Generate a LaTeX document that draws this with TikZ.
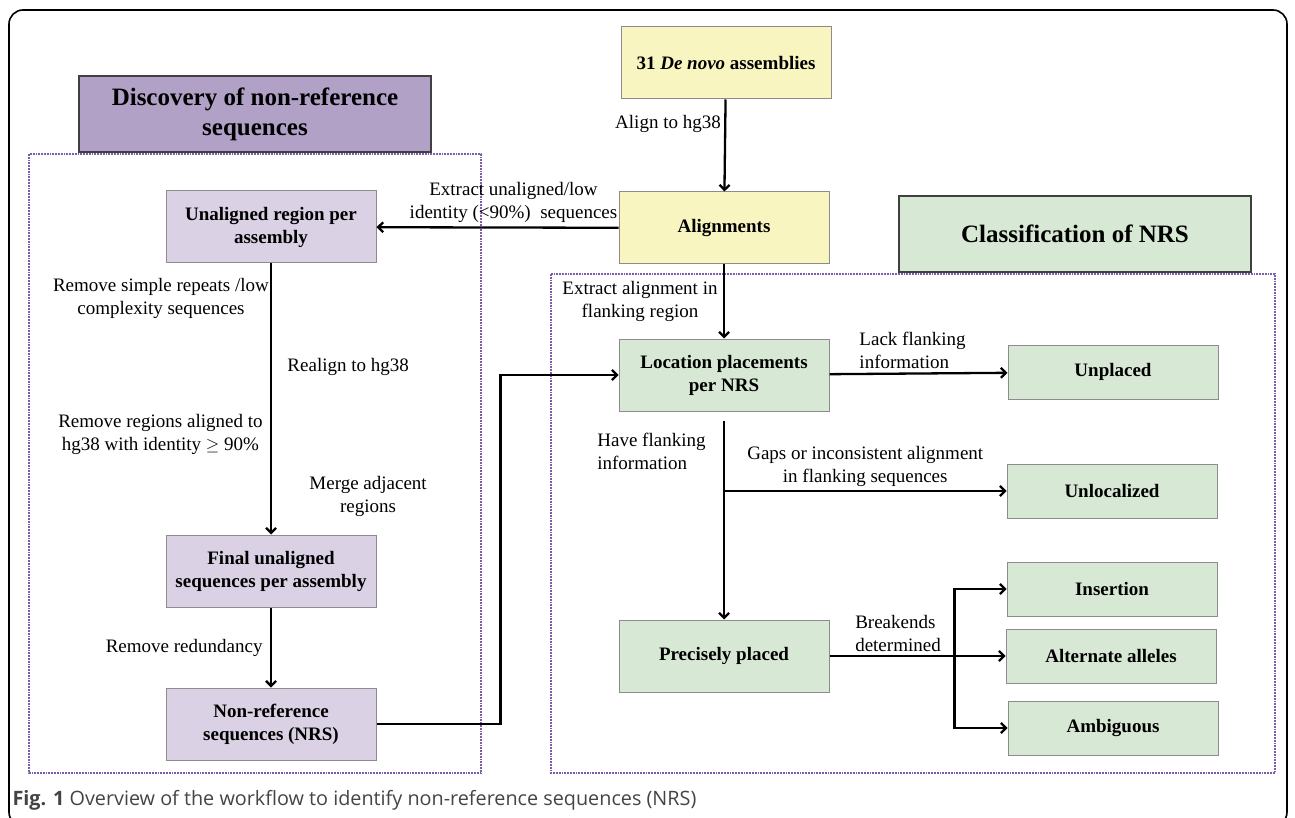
\documentclass[tikz,border=0pt]{standalone}
\usepackage{fontspec}
\setmainfont{Liberation Serif}
\newfontfamily\capfont{Open Sans}
\usetikzlibrary{arrows.meta}

\definecolor{yelfill}{HTML}{F9F5C0}
\definecolor{purtitle}{HTML}{B2A1C7}
\definecolor{purfill}{HTML}{DAD2E4}
\definecolor{grnfill}{HTML}{D7E9D4}
\definecolor{boxline}{HTML}{8C8C8C}
\definecolor{dotline}{HTML}{7B5EA7}
\definecolor{capgray}{HTML}{444444}

\tikzset{
  box/.style={draw=boxline, line width=1pt, minimum width=210pt, minimum height=72pt,
    align=center, font=\fontsize{19}{23}\selectfont\bfseries},
  outbox/.style={box, minimum height=54pt},
  titlebox/.style={draw=black!75, line width=1.3pt, minimum width=352pt, minimum height=76pt,
    align=center, font=\fontsize{25}{30}\selectfont\bfseries},
  frame/.style={draw=dotline, line width=1.8pt, densely dotted},
  lbl/.style={font=\fontsize{19}{23}\selectfont, align=center},
  arr/.style={-{Straight Barb[length=5pt,width=10pt]}, line width=2.3pt},
  link/.style={line width=2.3pt}
}

\begin{document}
\begin{tikzpicture}[x=1pt, y=-1pt]
  \useasboundingbox (0,0) rectangle (1295,818);
  \draw[line width=1.6pt, rounded corners=14pt] (9,10) rectangle (1287,826);

  % dotted frames
  \draw[frame] (29,154) rectangle (481,773);
  \draw[frame] (551,274) rectangle (1275,773);

  % titles
  \node[titlebox, fill=purtitle] (disc) at (255,114) {Discovery of non-reference\\sequences};
  \node[titlebox, fill=grnfill] (clas) at (1075,234) {Classification of NRS};

  % assemblies and alignments
  \node[box, fill=yelfill] (denovo) at (726,63) {31 \textit{De novo} assemblies};
  \node[box, fill=yelfill] (align) at (724,228) {Alignments};

  % discovery
  \node[box, fill=purfill] (unal) at (271,227) {Unaligned region per\\assembly};
  \node[box, fill=purfill] (final) at (271,571) {Final unaligned\\sequences per assembly};
  \node[box, fill=purfill] (nrs) at (271,724) {Non-reference\\sequences (NRS)};

  % classification
  \node[box, fill=grnfill] (loc) at (724,375) {Location placements\\per NRS};
  \node[box, fill=grnfill] (prec) at (724,656) {Precisely placed};
  \node[outbox, fill=grnfill] (unpl) at (1113,372) {Unplaced};
  \node[outbox, fill=grnfill] (unloc) at (1112,491) {Unlocalized};
  \node[outbox, fill=grnfill] (ins) at (1112,589) {Insertion};
  \node[outbox, fill=grnfill] (alt) at (1111,656) {Alternate alleles};
  \node[outbox, fill=grnfill] (amb) at (1113,728) {Ambiguous};

  \draw[arr] (denovo)--(align) node[lbl, pos=0.27, left]{Align to hg38};
  \draw[arr] (align)--(unal) node[lbl, midway, above, xshift=16pt]{Extract unaligned/low\\identity (<90\%)\ \ sequences};
  \draw[arr] (align)--(loc) node[lbl, midway, left, xshift=-2pt]{Extract alignment in\\flanking region};

  \draw[arr] (unal)--(final)
    node[lbl, pos=0.13, left, inner sep=1pt]{Remove simple repeats /low\\complexity sequences}
    node[lbl, pos=0.38, right, xshift=12pt]{Realign to hg38}
    node[lbl, pos=0.63, left, xshift=-4pt]{Remove regions aligned to\\hg38 with identity $\geq$ 90\%}
    node[lbl, pos=0.86, right, xshift=34pt]{Merge adjacent\\regions};
  \draw[arr] (final)--(nrs) node[lbl, midway, left, xshift=-4pt]{Remove redundancy};
  \draw[arr] (nrs.east) -- ++(124,0) |- (loc.west);

  \draw[arr] (loc)--(unpl) node[lbl, midway, above, xshift=-6pt, align=left]{Lack flanking\\information};
  \draw[arr, shorten <=9pt] (loc)--(prec) node[lbl, pos=0.19, left, xshift=-14pt, align=left]{Have flanking\\information};
  \coordinate (split) at (loc.south |- unloc.west);
  \draw[arr] (split)--(unloc) node[lbl, midway, above]{Gaps or inconsistent alignment\\in flanking sequences};

  \draw[link] (prec.east) -- ++(125,0) coordinate (fork) node[lbl, midway, above, xshift=6pt, align=left]{Breakends\\determined};
  \draw[arr] (fork) |- (ins);
  \draw[arr] (fork) -- (alt);
  \draw[arr] (fork) |- (amb);

  \node[anchor=west, font=\capfont\fontsize{19.8}{23}\selectfont, text=capgray] (cap) at (9,800)
    {\textbf{Fig. 1} Overview of the workflow to identify non-reference sequences (NRS)};
\end{tikzpicture}
\end{document}
